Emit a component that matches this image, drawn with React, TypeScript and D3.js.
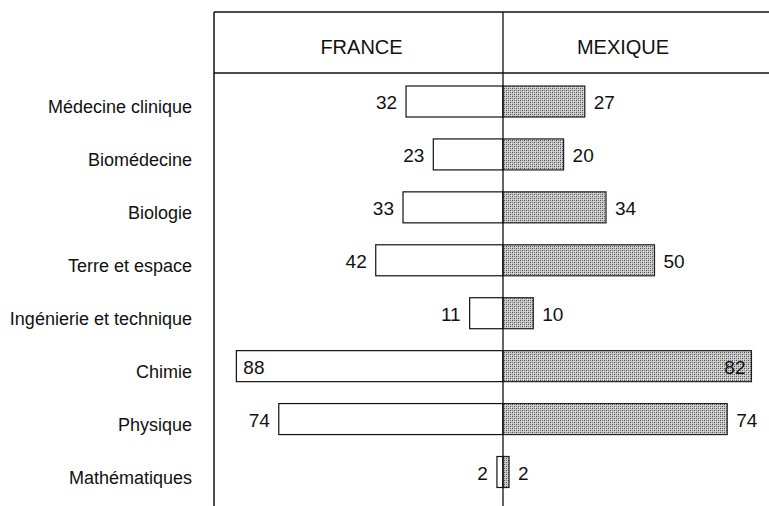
import React from "react";
import * as d3 from "d3";

const categories = [
  "Médecine clinique",
  "Biomédecine",
  "Biologie",
  "Terre et espace",
  "Ingénierie et technique",
  "Chimie",
  "Physique",
  "Mathématiques",
];
const france = [32, 23, 33, 42, 11, 88, 74, 2];
const mexique = [27, 20, 34, 50, 10, 82, 74, 2];
const headers = ["FRANCE", "MEXIQUE"];

const W = 769;
const H = 506;
const FRAME_X = 214;
const CENTER_X = 503;
const TOP_Y = 12;
const HEADER_Y = 73;
const BAR_H = 31;
const FONT = "'Liberation Sans', Arial, Helvetica, sans-serif";

export default function App() {
  const y = d3.scalePoint<string>().domain(categories).range([101.5, 472]);
  const x = d3.scaleLinear().domain([0, 100]).range([0, 303]);

  const numSize = 19;
  const digitW = numSize * 0.556;
  const gap = 9;

  return (
    <svg
      width={W}
      height={H}
      style={{ position: "absolute", left: 0, top: 0, background: "#fff" }}
      fontFamily={FONT}
    >
      <defs>
        <pattern id="stipple" width={4} height={4} patternUnits="userSpaceOnUse">
          <rect width={4} height={4} fill="#c6c6c6" />
          <rect x={0} y={0} width={1} height={1} fill="#4d4d4d" />
          <rect x={2} y={2} width={1} height={1} fill="#4d4d4d" />
          <rect x={2} y={0} width={1} height={1} fill="#858585" />
          <rect x={0} y={2} width={1} height={1} fill="#858585" />
          <rect x={1} y={1} width={1} height={1} fill="#e4e4e4" />
          <rect x={3} y={3} width={1} height={1} fill="#e4e4e4" />
        </pattern>
      </defs>

      {/* frame */}
      <line x1={FRAME_X} x2={W} y1={TOP_Y} y2={TOP_Y} stroke="#111" strokeWidth={1.5} />
      <line x1={FRAME_X} x2={W} y1={HEADER_Y} y2={HEADER_Y} stroke="#111" strokeWidth={1.5} />
      <line x1={FRAME_X} x2={FRAME_X} y1={TOP_Y} y2={H} stroke="#111" strokeWidth={1.5} />

      {/* column headers */}
      <text x={(FRAME_X + CENTER_X) / 2 + 3} y={47} dy="0.36em" textAnchor="middle" fontSize={20} fill="#111">
        {headers[0]}
      </text>
      <text x={623} y={47} dy="0.36em" textAnchor="middle" fontSize={20} fill="#111">
        {headers[1]}
      </text>

      {categories.map((c, i) => {
        const cy = y(c) as number;
        const fw = x(france[i]);
        const mw = x(mexique[i]);
        const fLabel = String(france[i]);
        const mLabel = String(mexique[i]);
        const fTextW = fLabel.length * digitW;
        const mTextW = mLabel.length * digitW;
        const fLeft = CENTER_X - fw;
        const mRight = CENTER_X + mw;
        const fInside = fLeft - gap - fTextW < FRAME_X + 2;
        const mInside = mRight + gap + mTextW > W - 2;
        return (
          <g key={c}>
            <text
              x={192}
              y={cy + 5.5}
              dy="0.36em"
              textAnchor="end"
              fontSize={18}
              fill="#111"
            >
              {c}
            </text>
            <rect
              x={fLeft}
              y={cy - BAR_H / 2}
              width={fw}
              height={BAR_H}
              fill="#fff"
              stroke="#111"
              strokeWidth={1.2}
            />
            <rect
              x={CENTER_X}
              y={cy - BAR_H / 2}
              width={mw}
              height={BAR_H}
              fill="url(#stipple)"
              stroke="#222"
              strokeWidth={1.2}
            />
            <text
              x={fInside ? fLeft + 7 : fLeft - gap}
              y={cy + 1}
              dy="0.36em"
              textAnchor={fInside ? "start" : "end"}
              fontSize={numSize}
              fill="#111"
            >
              {fLabel}
            </text>
            <text
              x={mInside ? mRight - 6 : mRight + gap}
              y={cy + 1}
              dy="0.36em"
              textAnchor={mInside ? "end" : "start"}
              fontSize={numSize}
              fill="#111"
            >
              {mLabel}
            </text>
          </g>
        );
      })}

      {/* central axis */}
      <line x1={CENTER_X} x2={CENTER_X} y1={TOP_Y} y2={H} stroke="#111" strokeWidth={1.3} />
    </svg>
  );
}
